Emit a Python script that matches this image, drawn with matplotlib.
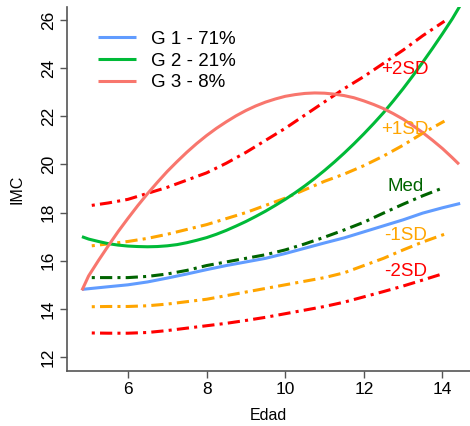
import matplotlib
matplotlib.use("Agg")
import matplotlib.pyplot as plt

plt.rcParams["font.family"] = ["Liberation Sans", "DejaVu Sans"]

# group trajectories
g1_age = [4.83, 5.5, 6, 6.5, 7, 7.5, 8, 8.5, 9, 9.5, 10, 10.5, 11, 11.5, 12, 12.5, 13, 13.5, 14, 14.45]
g1_imc = [14.81, 14.92, 15.0, 15.12, 15.28, 15.45, 15.63, 15.8, 15.95, 16.1, 16.3, 16.52, 16.74, 16.95, 17.2, 17.45, 17.7, 17.98, 18.2, 18.38]

g2_age = [4.83, 5.0, 5.25, 5.5, 5.75, 6.0, 6.25, 6.5, 6.75, 7.0, 7.25, 7.5, 7.75, 8.0,
          8.25, 8.5, 8.75, 9.0, 9.25, 9.5, 9.75, 10.0, 10.25, 10.5, 10.75, 11.0, 11.25,
          11.5, 11.75, 12.0, 12.25, 12.5, 12.75, 13.0, 13.25, 13.5, 13.75, 14.0, 14.25, 14.45]
g2_imc = [17.0, 16.9, 16.8, 16.71, 16.65, 16.61, 16.59, 16.58, 16.59, 16.62, 16.67, 16.75, 16.85, 16.96,
          17.1, 17.26, 17.44, 17.63, 17.84, 18.06, 18.3, 18.55, 18.82, 19.11, 19.42, 19.75, 20.1,
          20.47, 20.86, 21.27, 21.7, 22.15, 22.64, 23.15, 23.69, 24.25, 24.83, 25.43, 26.05, 26.6]

g3_age = [4.83, 5.0, 5.25, 5.5, 5.75, 6.0, 6.25, 6.5, 6.75, 7.0, 7.25, 7.5, 7.75, 8.0,
          8.25, 8.5, 8.75, 9.0, 9.25, 9.5, 9.75, 10.0, 10.25, 10.5, 10.75, 11.0, 11.25,
          11.5, 11.75, 12.0, 12.25, 12.5, 12.75, 13.0, 13.25, 13.5, 13.75, 14.0, 14.25, 14.42]
g3_imc = [14.77, 15.37, 16.01, 16.62, 17.21, 17.76, 18.29, 18.79, 19.26, 19.71, 20.12, 20.51, 20.87, 21.2,
          21.5, 21.77, 22.02, 22.24, 22.43, 22.59, 22.72, 22.83, 22.9, 22.95, 22.97, 22.96, 22.92,
          22.86, 22.77, 22.64, 22.49, 22.32, 22.11, 21.88, 21.61, 21.32, 21.0, 20.66, 20.28, 20.01]

# reference percentiles
ref_age = [5.08, 5.5, 6, 6.5, 7, 7.5, 8, 8.5, 9, 9.5, 10, 10.5, 11, 11.5, 12, 12.5, 13, 13.5, 14.05]
p2sd = [18.3, 18.4, 18.55, 18.8, 19.05, 19.35, 19.65, 20.05, 20.5, 21.0, 21.5, 22.05, 22.6, 23.15, 23.65, 24.2, 24.75, 25.35, 25.95]
p1sd = [16.62, 16.7, 16.8, 16.93, 17.1, 17.3, 17.5, 17.75, 18.0, 18.3, 18.6, 18.95, 19.3, 19.6, 19.95, 20.35, 20.8, 21.3, 21.8]
med = [15.3, 15.3, 15.3, 15.35, 15.45, 15.6, 15.8, 15.95, 16.1, 16.25, 16.45, 16.7, 16.98, 17.28, 17.6, 17.98, 18.35, 18.7, 19.05]
m1sd = [14.09, 14.1, 14.1, 14.13, 14.2, 14.3, 14.4, 14.55, 14.7, 14.85, 15.0, 15.15, 15.3, 15.5, 15.8, 16.1, 16.45, 16.78, 17.1]
m2sd = [13.0, 12.99, 12.99, 13.02, 13.1, 13.2, 13.3, 13.4, 13.52, 13.65, 13.8, 13.95, 14.1, 14.28, 14.5, 14.72, 14.95, 15.2, 15.48]

ref_labels = ["+2SD", "+1SD", "Med", "-1SD", "-2SD"]
ref_label_y = [23.95, 21.45, 19.1, 17.06, 15.56]
ref_colors = ["#FF0000", "#FFA500", "#006400", "#FFA500", "#FF0000"]

group_names = ["G 1 - 71%", "G 2 - 21%", "G 3 - 8%"]
group_colors = ["#619CFF", "#00BA38", "#F8766D"]

fig = plt.figure(figsize=(4.70, 4.26), dpi=100)
ax = fig.add_axes([67 / 470, 55 / 426, 403 / 470, 364 / 426])

dash = (1, 1.7, 4, 1.7)
for yy, col in zip([p2sd, p1sd, med, m1sd, m2sd], ref_colors):
    ax.plot(ref_age, yy, color=col, lw=2.2, dashes=dash)

for xx, yy, col, name in zip([g1_age, g2_age, g3_age], [g1_imc, g2_imc, g3_imc],
                             group_colors, group_names):
    ax.plot(xx, yy, color=col, lw=2.2, label=name, solid_capstyle="butt")

for lab, yy, col in zip(ref_labels, ref_label_y, ref_colors):
    ax.text(13.05, yy, lab, color=col, fontsize=13.5, ha="center", va="center")

ax.set_xlim(4.45, 14.70)
ax.set_ylim(11.42, 26.54)
ax.set_xticks([6, 8, 10, 12, 14])
ax.set_yticks([12, 14, 16, 18, 20, 22, 24, 26])
ax.tick_params(labelsize=12.5, length=5, width=1, color="#555555", pad=3)
for t in ax.get_yticklabels():
    t.set_rotation(90)
    t.set_va("center")
for s in ["top", "right"]:
    ax.spines[s].set_visible(False)
for s in ["left", "bottom"]:
    ax.spines[s].set_color("#555555")
    ax.spines[s].set_linewidth(1.2)

ax.set_xlabel("Edad", fontsize=11.5, labelpad=8)
ax.set_ylabel("IMC", fontsize=11.5, labelpad=12)

ax.legend(loc="upper left", bbox_to_anchor=(0.077, 0.935), frameon=False,
          borderaxespad=0, borderpad=0,
          fontsize=13.5, handlelength=2.0, handletextpad=0.8, labelspacing=0.25)

fig.savefig("out.png", dpi=100)
